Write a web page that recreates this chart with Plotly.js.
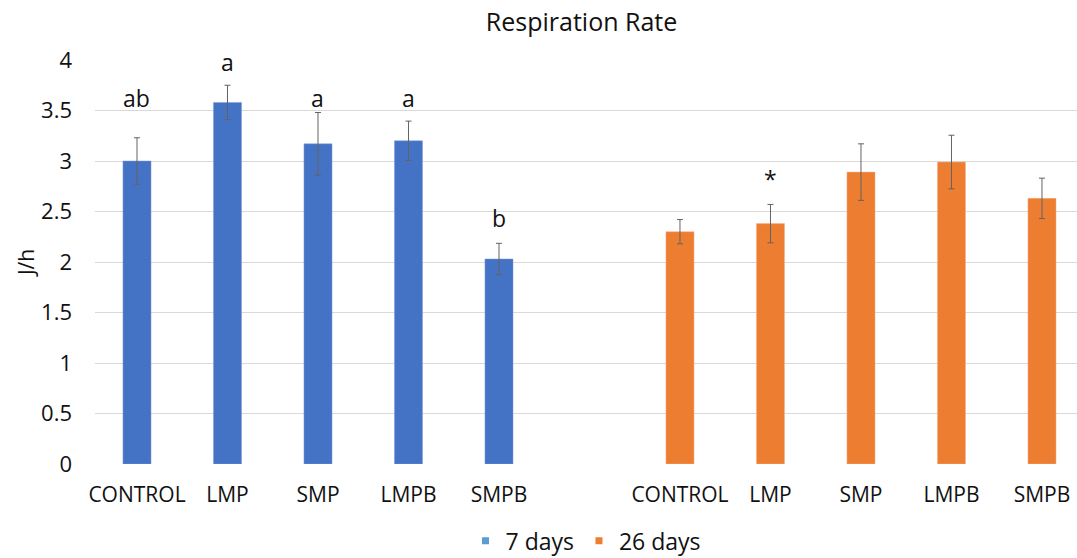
<!DOCTYPE html>
<html>
<head>
<meta charset="utf-8">
<script src="https://cdn.plot.ly/plotly-3.0.1.min.js"></script>
<style>html,body{margin:0;padding:0;background:#fff;}#chart{width:1077px;height:558px;}</style>
</head>
<body>
<div id="chart"></div>
<script>
// ---- data ----
const treatments = ["CONTROL", "LMP", "SMP", "LMPB", "SMPB"];
const days7 = [3.00, 3.58, 3.17, 3.20, 2.03];
const days7Err = [0.23, 0.17, 0.31, 0.195, 0.155];
const days26 = [2.30, 2.38, 2.89, 2.99, 2.63];
const days26Err = [0.12, 0.19, 0.28, 0.265, 0.20];
const days7Letters = ["ab", "a", "a", "a", "b"];
const days7LetterY = [3.62, 3.98, 3.62, 3.62, 2.44];
const days26Marks = ["", "*", "", "", ""];
const days26MarkY = [0, 2.82, 0, 0, 0];
const seriesNames = ["7 days", "26 days"];

// positions: first group 0..4, gap, second group 6..10
const pos7 = treatments.map((_, i) => i);
const pos26 = treatments.map((_, i) => i + treatments.length + 1);
const tickVals = pos7.concat(pos26);
const tickText = treatments.concat(treatments);

const font = "'Open Sans', 'Noto Sans', sans-serif";
const textColor = "#111";
const errStyle = {type: "data", visible: true, color: "#636363", thickness: 1, width: 3};

const traces = [
  {type: "bar", x: pos7, y: days7, width: 0.31, name: seriesNames[0], showlegend: false,
   marker: {color: "#4472C4", line: {color: "#7f9ed8", width: 0.5}},
   error_y: Object.assign({array: days7Err}, errStyle), hoverinfo: "y"},
  {type: "bar", x: pos26, y: days26, width: 0.31, name: seriesNames[1], showlegend: false,
   marker: {color: "#ED7D31", line: {color: "#f5b38a", width: 0.5}},
   error_y: Object.assign({array: days26Err}, errStyle), hoverinfo: "y"},
  {type: "scatter", mode: "markers", x: [null], y: [null], name: seriesNames[0],
   marker: {symbol: "square", size: 7, color: "#5B9BD5"}},
  {type: "scatter", mode: "markers", x: [null], y: [null], name: seriesNames[1],
   marker: {symbol: "square", size: 7, color: "#ED7D31"}}
];

const annotations = [];
days7Letters.forEach((t, i) => {
  if (t) annotations.push({x: pos7[i], y: days7LetterY[i], xref: "x", yref: "y", text: t,
    showarrow: false, font: {family: font, size: 23, color: "#111"}});
});
days26Marks.forEach((t, i) => {
  if (t) annotations.push({x: pos26[i], y: days26MarkY[i], xref: "x", yref: "y", text: t,
    showarrow: false, font: {family: font, size: 23, color: "#111"}});
});

const layout = {
  width: 1077, height: 558,
  margin: {l: 95, r: 0, t: 60, b: 94, autoexpand: false},
  paper_bgcolor: "#fff", plot_bgcolor: "#fff",
  font: {family: font, color: textColor},
  title: {text: "Respiration Rate", x: 0.54, xanchor: "center", y: 0.96, yanchor: "middle",
          font: {family: font, size: 25, color: "#111"}},
  xaxis: {tickmode: "array", tickvals: tickVals, ticktext: tickText, automargin: false,
          range: [-0.464, 10.387], showgrid: false, zeroline: false, showline: false,
          ticks: "", ticklabelstandoff: 16, tickfont: {family: font, size: 21, color: "#111"}},
  yaxis: {range: [0, 4], dtick: 0.5, tick0: 0, showgrid: true, gridcolor: "#d9d9d9", gridwidth: 1,
          zeroline: false, showline: false, ticks: "", ticklabelstandoff: 22, automargin: false,
          tickfont: {family: font, size: 22, color: "#111"},
          title: {text: "J/h", standoff: 0, font: {family: font, size: 21, color: "#111"}}},
  legend: {orientation: "h", x: 0.5, xanchor: "center", y: -0.19, yanchor: "middle",
           font: {family: font, size: 23, color: "#111"}, itemwidth: 30},
  annotations: annotations,
  showlegend: true
};

Plotly.newPlot("chart", traces, layout, {displayModeBar: false, staticPlot: true});
</script>
</body>
</html>
